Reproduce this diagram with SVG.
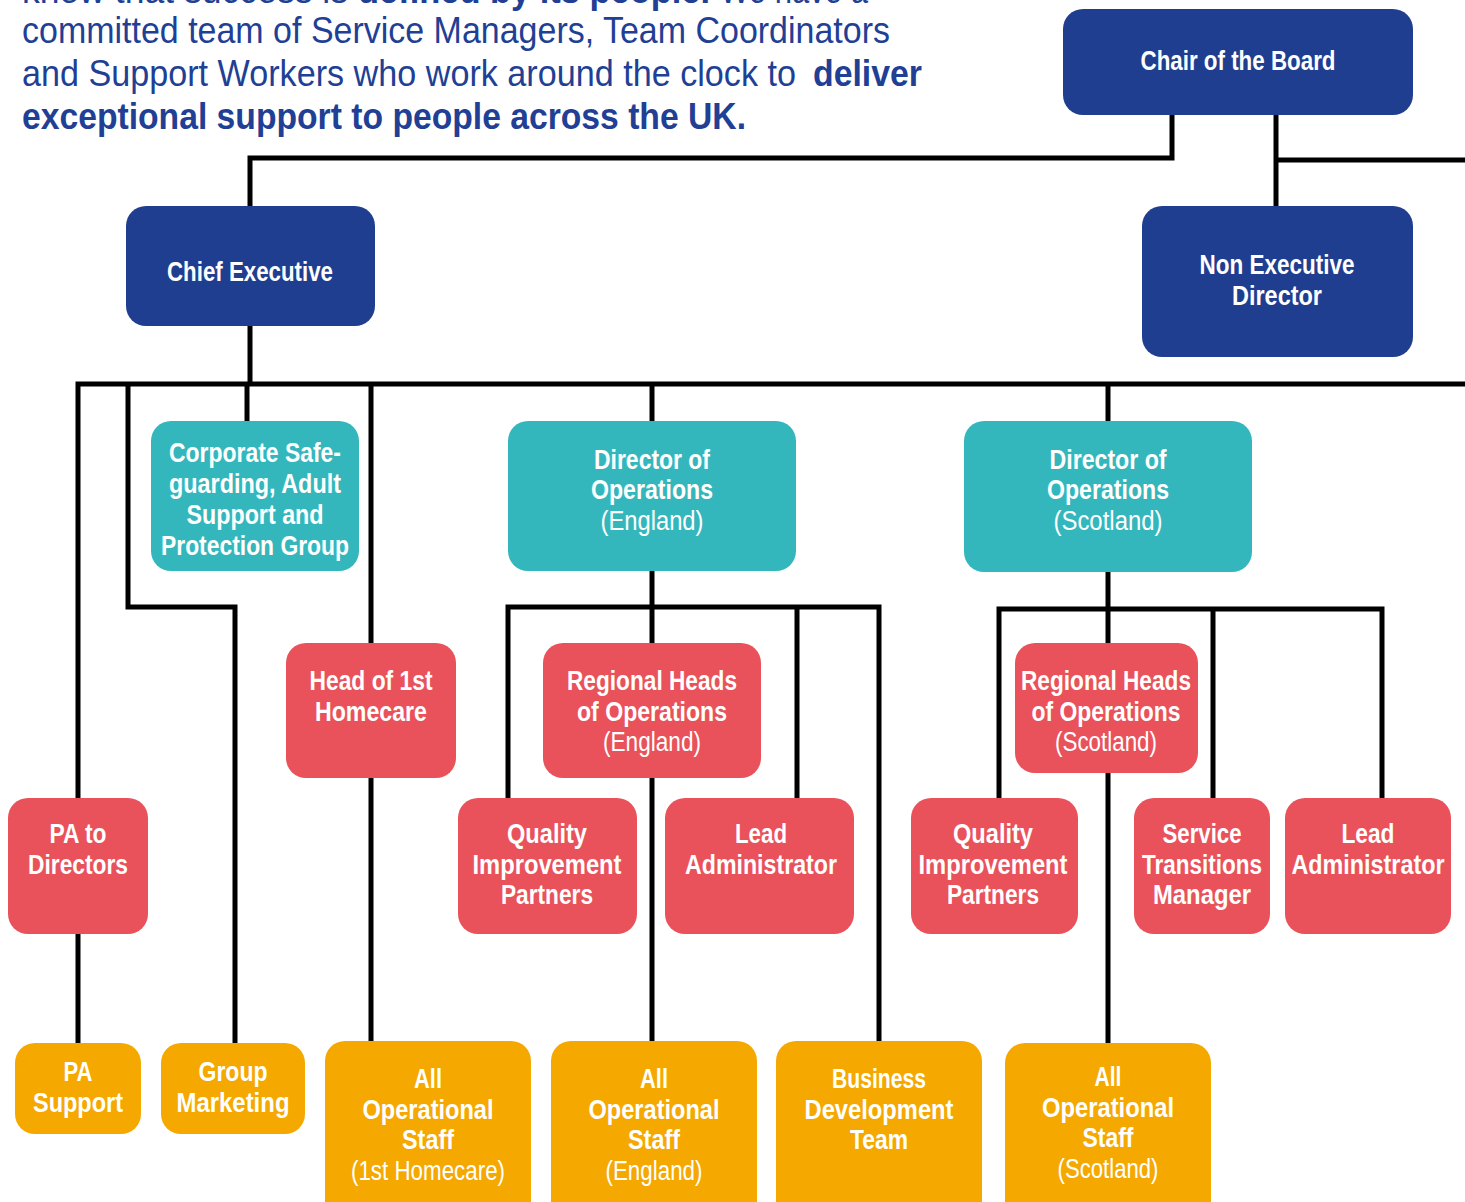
<svg xmlns="http://www.w3.org/2000/svg" width="1465" height="1202" viewBox="0 0 1465 1202">
<style>
.intro{font-family:"Liberation Sans",Arial,sans-serif;font-size:37px;fill:#213f94}
.b{font-weight:bold}
.lbl{font-family:"Liberation Sans",Arial,sans-serif;font-size:27px;font-weight:bold;fill:#fff;text-anchor:middle}
.sub{font-weight:normal}
.navy{fill:#1f3e8f}
.teal{fill:#34b7bc}
.red{fill:#e9525a}
.orange{fill:#f5a800}
.conn{fill:none;stroke:#000;stroke-width:5}
</style>
<rect width="1465" height="1202" fill="#fff"/>
<g id="intro">
<text class="intro" y="3"><tspan x="22" textLength="326" lengthAdjust="spacingAndGlyphs">know that success is</tspan><tspan class="b" x="358" textLength="352" lengthAdjust="spacingAndGlyphs">defined by its people.</tspan><tspan x="720" textLength="148" lengthAdjust="spacingAndGlyphs">We have a</tspan></text>
<text class="intro" x="22" y="43" textLength="868" lengthAdjust="spacingAndGlyphs">committed team of Service Managers, Team Coordinators</text>
<text class="intro" x="22" y="86" textLength="774" lengthAdjust="spacingAndGlyphs">and Support Workers who work around the clock to</text>
<text class="intro b" x="813" y="86" textLength="109" lengthAdjust="spacingAndGlyphs">deliver</text>
<text class="intro b" x="22" y="129" textLength="724" lengthAdjust="spacingAndGlyphs">exceptional support to people across the UK.</text>
</g>
<g id="connectors">
<polyline class="conn" points="1172,115 1172,158 250,158 250,206"/>
<line class="conn" x1="1276" y1="115" x2="1276" y2="206"/>
<line class="conn" x1="1276" y1="160" x2="1465" y2="160"/>
<line class="conn" x1="250" y1="326" x2="250" y2="384"/>
<polyline class="conn" points="78,798 78,384 1465,384"/>
<polyline class="conn" points="128,384 128,607 235,607 235,1043"/>
<line class="conn" x1="247" y1="384" x2="247" y2="421"/>
<line class="conn" x1="371" y1="384" x2="371" y2="643"/>
<line class="conn" x1="371" y1="778" x2="371" y2="1041"/>
<line class="conn" x1="78" y1="934" x2="78" y2="1043"/>
<line class="conn" x1="652" y1="384" x2="652" y2="421"/>
<line class="conn" x1="1108" y1="384" x2="1108" y2="421"/>
<line class="conn" x1="652" y1="571" x2="652" y2="643"/>
<polyline class="conn" points="508,798 508,607 879,607 879,1041"/>
<line class="conn" x1="797" y1="607" x2="797" y2="798"/>
<line class="conn" x1="652" y1="778" x2="652" y2="1041"/>
<line class="conn" x1="1108" y1="572" x2="1108" y2="643"/>
<polyline class="conn" points="999,798 999,609 1382,609 1382,798"/>
<line class="conn" x1="1213" y1="609" x2="1213" y2="798"/>
<line class="conn" x1="1108" y1="773" x2="1108" y2="1043"/>
</g>
<g id="chair"><rect class="navy" x="1063" y="9" width="350" height="106" rx="20"/><text class="lbl" x="1238" y="70" textLength="195" lengthAdjust="spacingAndGlyphs">Chair of the Board</text></g>
<g id="chief-executive"><rect class="navy" x="126" y="206" width="249" height="120" rx="20"/><text class="lbl" x="250" y="281" textLength="166" lengthAdjust="spacingAndGlyphs">Chief Executive</text></g>
<g id="non-executive-director"><rect class="navy" x="1142" y="206" width="271" height="151" rx="20"/><text class="lbl" x="1277" y="274" textLength="155" lengthAdjust="spacingAndGlyphs">Non Executive</text><text class="lbl" x="1277" y="305" textLength="90" lengthAdjust="spacingAndGlyphs">Director</text></g>
<g id="corporate-safeguarding"><rect class="teal" x="151" y="421" width="208" height="150" rx="20"/><text class="lbl" x="255" y="462" textLength="172" lengthAdjust="spacingAndGlyphs">Corporate Safe-</text><text class="lbl" x="255" y="493" textLength="172" lengthAdjust="spacingAndGlyphs">guarding, Adult</text><text class="lbl" x="255" y="524" textLength="137" lengthAdjust="spacingAndGlyphs">Support and</text><text class="lbl" x="255" y="555" textLength="188" lengthAdjust="spacingAndGlyphs">Protection Group</text></g>
<g id="dir-ops-england"><rect class="teal" x="508" y="421" width="288" height="150" rx="20"/><text class="lbl" x="652" y="469" textLength="116" lengthAdjust="spacingAndGlyphs">Director of</text><text class="lbl" x="652" y="499" textLength="122" lengthAdjust="spacingAndGlyphs">Operations</text><text class="lbl sub" x="652" y="530" textLength="103" lengthAdjust="spacingAndGlyphs">(England)</text></g>
<g id="dir-ops-scotland"><rect class="teal" x="964" y="421" width="288" height="151" rx="20"/><text class="lbl" x="1108" y="469" textLength="117" lengthAdjust="spacingAndGlyphs">Director of</text><text class="lbl" x="1108" y="499" textLength="122" lengthAdjust="spacingAndGlyphs">Operations</text><text class="lbl sub" x="1108" y="530" textLength="109" lengthAdjust="spacingAndGlyphs">(Scotland)</text></g>
<g id="head-1st-homecare"><rect class="red" x="286" y="643" width="170" height="135" rx="20"/><text class="lbl" x="371" y="690" textLength="123" lengthAdjust="spacingAndGlyphs">Head of 1st</text><text class="lbl" x="371" y="721" textLength="112" lengthAdjust="spacingAndGlyphs">Homecare</text></g>
<g id="regional-heads-england"><rect class="red" x="543" y="643" width="218" height="135" rx="20"/><text class="lbl" x="652" y="690" textLength="170" lengthAdjust="spacingAndGlyphs">Regional Heads</text><text class="lbl" x="652" y="721" textLength="150" lengthAdjust="spacingAndGlyphs">of Operations</text><text class="lbl sub" x="652" y="751" textLength="98" lengthAdjust="spacingAndGlyphs">(England)</text></g>
<g id="regional-heads-scotland"><rect class="red" x="1015" y="643" width="183" height="130" rx="20"/><text class="lbl" x="1106" y="690" textLength="170" lengthAdjust="spacingAndGlyphs">Regional Heads</text><text class="lbl" x="1106" y="721" textLength="149" lengthAdjust="spacingAndGlyphs">of Operations</text><text class="lbl sub" x="1106" y="751" textLength="102" lengthAdjust="spacingAndGlyphs">(Scotland)</text></g>
<g id="pa-to-directors"><rect class="red" x="8" y="798" width="140" height="136" rx="20"/><text class="lbl" x="78" y="843" textLength="57" lengthAdjust="spacingAndGlyphs">PA to</text><text class="lbl" x="78" y="874" textLength="100" lengthAdjust="spacingAndGlyphs">Directors</text></g>
<g id="qip-england"><rect class="red" x="458" y="798" width="179" height="136" rx="20"/><text class="lbl" x="547" y="843" textLength="80" lengthAdjust="spacingAndGlyphs">Quality</text><text class="lbl" x="547" y="874" textLength="149" lengthAdjust="spacingAndGlyphs">Improvement</text><text class="lbl" x="547" y="904" textLength="92" lengthAdjust="spacingAndGlyphs">Partners</text></g>
<g id="lead-admin-england"><rect class="red" x="665" y="798" width="189" height="136" rx="20"/><text class="lbl" x="761" y="843" textLength="52" lengthAdjust="spacingAndGlyphs">Lead</text><text class="lbl" x="761" y="874" textLength="152" lengthAdjust="spacingAndGlyphs">Administrator</text></g>
<g id="qip-scotland"><rect class="red" x="911" y="798" width="167" height="136" rx="20"/><text class="lbl" x="993" y="843" textLength="80" lengthAdjust="spacingAndGlyphs">Quality</text><text class="lbl" x="993" y="874" textLength="149" lengthAdjust="spacingAndGlyphs">Improvement</text><text class="lbl" x="993" y="904" textLength="92" lengthAdjust="spacingAndGlyphs">Partners</text></g>
<g id="service-transitions-manager"><rect class="red" x="1134" y="798" width="136" height="136" rx="20"/><text class="lbl" x="1202" y="843" textLength="79" lengthAdjust="spacingAndGlyphs">Service</text><text class="lbl" x="1202" y="874" textLength="120" lengthAdjust="spacingAndGlyphs">Transitions</text><text class="lbl" x="1202" y="904" textLength="98" lengthAdjust="spacingAndGlyphs">Manager</text></g>
<g id="lead-admin-scotland"><rect class="red" x="1285" y="798" width="166" height="136" rx="20"/><text class="lbl" x="1368" y="843" textLength="53" lengthAdjust="spacingAndGlyphs">Lead</text><text class="lbl" x="1368" y="874" textLength="153" lengthAdjust="spacingAndGlyphs">Administrator</text></g>
<g id="pa-support"><rect class="orange" x="15" y="1043" width="126" height="91" rx="20"/><text class="lbl" x="78" y="1081" textLength="29" lengthAdjust="spacingAndGlyphs">PA</text><text class="lbl" x="78" y="1112" textLength="90" lengthAdjust="spacingAndGlyphs">Support</text></g>
<g id="group-marketing"><rect class="orange" x="161" y="1043" width="144" height="91" rx="20"/><text class="lbl" x="233" y="1081" textLength="69" lengthAdjust="spacingAndGlyphs">Group</text><text class="lbl" x="233" y="1112" textLength="113" lengthAdjust="spacingAndGlyphs">Marketing</text></g>
<g id="all-ops-1st-homecare"><rect class="orange" x="325" y="1041" width="206" height="180" rx="20"/><text class="lbl" x="428" y="1088" textLength="28" lengthAdjust="spacingAndGlyphs">All</text><text class="lbl" x="428" y="1119" textLength="131" lengthAdjust="spacingAndGlyphs">Operational</text><text class="lbl" x="428" y="1149" textLength="52" lengthAdjust="spacingAndGlyphs">Staff</text><text class="lbl sub" x="428" y="1180" textLength="154" lengthAdjust="spacingAndGlyphs">(1st Homecare)</text></g>
<g id="all-ops-england"><rect class="orange" x="551" y="1041" width="206" height="180" rx="20"/><text class="lbl" x="654" y="1088" textLength="28" lengthAdjust="spacingAndGlyphs">All</text><text class="lbl" x="654" y="1119" textLength="131" lengthAdjust="spacingAndGlyphs">Operational</text><text class="lbl" x="654" y="1149" textLength="52" lengthAdjust="spacingAndGlyphs">Staff</text><text class="lbl sub" x="654" y="1180" textLength="97" lengthAdjust="spacingAndGlyphs">(England)</text></g>
<g id="business-development"><rect class="orange" x="776" y="1041" width="206" height="180" rx="20"/><text class="lbl" x="879" y="1088" textLength="94" lengthAdjust="spacingAndGlyphs">Business</text><text class="lbl" x="879" y="1119" textLength="149" lengthAdjust="spacingAndGlyphs">Development</text><text class="lbl" x="879" y="1149" textLength="58" lengthAdjust="spacingAndGlyphs">Team</text></g>
<g id="all-ops-scotland"><rect class="orange" x="1005" y="1043" width="206" height="180" rx="20"/><text class="lbl" x="1108" y="1086" textLength="27" lengthAdjust="spacingAndGlyphs">All</text><text class="lbl" x="1108" y="1117" textLength="132" lengthAdjust="spacingAndGlyphs">Operational</text><text class="lbl" x="1108" y="1147" textLength="51" lengthAdjust="spacingAndGlyphs">Staff</text><text class="lbl sub" x="1108" y="1178" textLength="101" lengthAdjust="spacingAndGlyphs">(Scotland)</text></g>
</svg>
